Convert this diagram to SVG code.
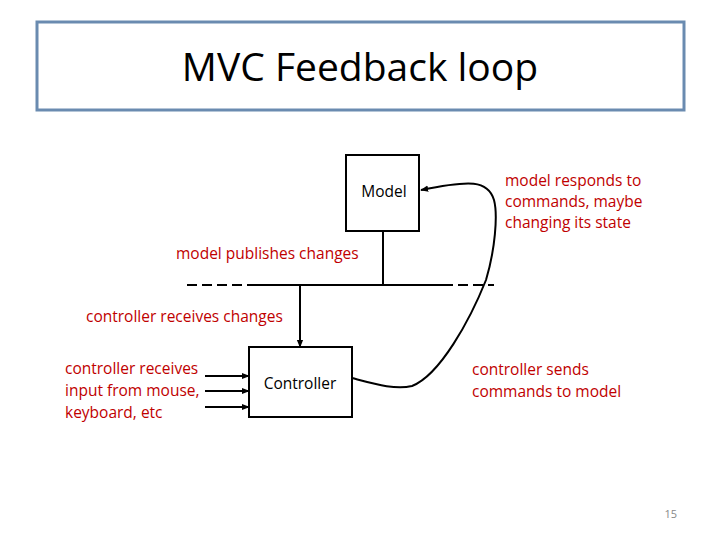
<svg xmlns="http://www.w3.org/2000/svg" width="720" height="540" viewBox="0 0 720 540">
<style>
text{font-family:"Open Sans","Liberation Sans",sans-serif}
.lbl{font-size:15.5px;fill:#000}
.red{font-size:15.5px;fill:#c00000}
.box{fill:#fff;stroke:#000;stroke-width:2}
.ln{fill:none;stroke:#000;stroke-width:2}
</style>
<defs>
<marker id="ah" viewBox="0 0 10 10" refX="9" refY="5" markerWidth="4" markerHeight="4" orient="auto" markerUnits="strokeWidth">
<path d="M0,1 L10,5 L0,9 z" fill="#000"/>
</marker>
</defs>
<rect width="720" height="540" fill="#fff"/>
<g id="title">
<rect x="37" y="22" width="647" height="88" fill="#fff" stroke="#6a8bb0" stroke-width="3"/>
<text x="360" y="81" text-anchor="middle" style="font-size:39px;fill:#000">MVC Feedback loop</text>
</g>
<g id="connectors">
<line class="ln" x1="383" y1="231" x2="383" y2="285"/>
<line class="ln" x1="248" y1="285" x2="443" y2="285" stroke-width="3"/>
<line class="ln" x1="187" y1="285" x2="248" y2="285" stroke-width="3" stroke-dasharray="10,5"/>
<line class="ln" x1="443" y1="285" x2="494" y2="285" stroke-width="3" stroke-dasharray="10,5"/>
<line class="ln" x1="300" y1="285" x2="300" y2="347" marker-end="url(#ah)"/>
<line class="ln" x1="205" y1="376" x2="249" y2="376" marker-end="url(#ah)"/>
<line class="ln" x1="205" y1="391" x2="249" y2="391" marker-end="url(#ah)"/>
<line class="ln" x1="205" y1="407" x2="249" y2="407" marker-end="url(#ah)"/>
<path class="ln" d="M352,378 C375,384 395,390 412,386 C440,375 470,320 486,280 C495,250 498,215 494,200 C488,180 470,180 421,190" marker-end="url(#ah)"/>
</g>
<g id="model">
<rect class="box" x="346" y="155" width="73" height="76"/>
<text class="lbl" x="384" y="197" text-anchor="middle">Model</text>
</g>
<g id="controller">
<rect class="box" x="249" y="347" width="103" height="70"/>
<text class="lbl" x="300" y="389" text-anchor="middle">Controller</text>
</g>
<g id="labels">
<text class="red" x="505" y="186">model responds to</text>
<text class="red" x="505" y="207">commands, maybe</text>
<text class="red" x="505" y="228">changing its state</text>
<text class="red" x="176" y="259">model publishes changes</text>
<text class="red" x="86" y="322">controller receives changes</text>
<text class="red" x="65" y="374">controller receives</text>
<text class="red" x="65" y="396">input from mouse,</text>
<text class="red" x="65" y="418">keyboard, etc</text>
<text class="red" x="472" y="375">controller sends</text>
<text class="red" x="472" y="397">commands to model</text>
<text x="677" y="518" text-anchor="end" style="font-size:11px;fill:#888">15</text>
</g>
</svg>
